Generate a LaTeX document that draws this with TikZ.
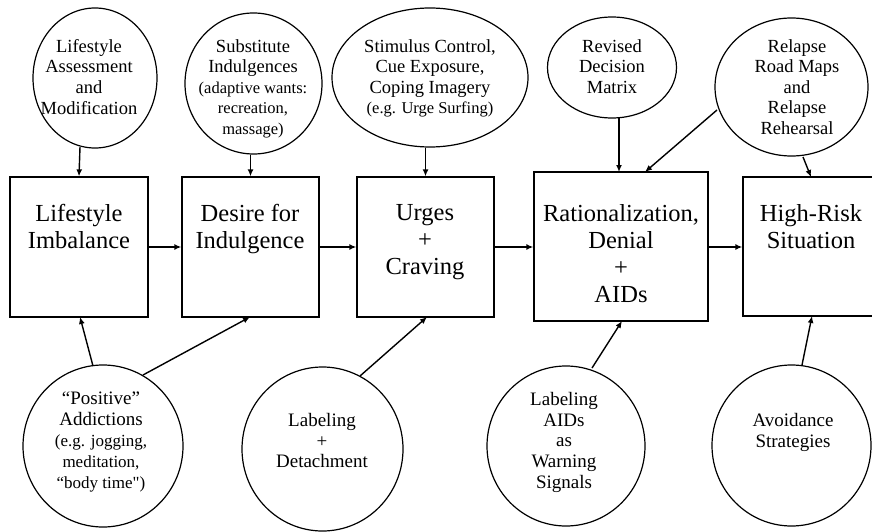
\documentclass[tikz,border=0pt]{standalone}
\usepackage{fontspec}
\setmainfont{Liberation Serif}
\newfontfamily\qf{Liberation Serif}
\usetikzlibrary{shapes.geometric,arrows.meta}
\newcommand\fbig{\fontsize{24.5}{27}\selectfont}
\newcommand\fmid{\fontsize{18.5}{20.6}\selectfont}
\newcommand\fsm{\fontsize{16.5}{20.6}\selectfont}
\newcommand\fbot{\fontsize{19}{20.8}\selectfont}
\newcommand\fbsm{\fontsize{17}{20.8}\selectfont}
\tikzset{
  stagebox/.style={draw, line width=1.3pt, rectangle, inner sep=0pt},
  ell/.style={draw, line width=1.2pt, ellipse, inner sep=0pt},
  txt/.style={inner sep=0pt, align=center, anchor=north},
  arr/.style={line width=1.4pt, -{Latex[length=7pt,width=6pt]}},
}
\begin{document}
\begin{tikzpicture}[x=1pt,y=-1pt]
\useasboundingbox (0,0) rectangle (872,532);
\clip (0,0) rectangle (872,532);
% boxes
\node[stagebox, minimum width=138pt, minimum height=140pt] (b1) at (79,247) {};
\node[stagebox, minimum width=137pt, minimum height=140pt] (b2) at (250.5,247) {};
\node[stagebox, minimum width=137pt, minimum height=140pt] (b3) at (425.5,247) {};
\node[stagebox, minimum width=174pt, minimum height=149pt] (b4) at (621,246.5) {};
\node[stagebox, minimum width=137pt, minimum height=139pt] (b5) at (811.5,246.5) {};
% box texts
\node[txt, font=\fbig] (t1) at (79,204) {Lifestyle\\Imbalance};
\node[txt, font=\fbig] (t2) at (250,204) {Desire for\\Indulgence};
\node[txt, font=\fbig] (t3) at (425,204) {Urges\\+\\Craving};
\node[txt, font=\fbig] (t4) at (621,204) {Rationalization,\\Denial\\+\\AIDs};
\node[txt, font=\fbig] (t5) at (811,204) {High-Risk\\Situation};
% top ellipses
\node[ell, minimum width=124pt, minimum height=140pt] (c1) at (95,78) {};
\node[ell, minimum width=137pt, minimum height=141pt] (c2) at (253.5,83.5) {};
\node[ell, minimum width=196pt, minimum height=139pt] (c3) at (430,77.5) {};
\node[ell, minimum width=129pt, minimum height=101pt] (c4) at (612,67.5) {};
\node[ell, minimum width=153pt, minimum height=138pt] (c5) at (791.5,87) {};
\node[txt, font=\fmid] (u1) at (89,39) {Lifestyle\\Assessment\\and\\Modification};
\node[txt, font=\fmid] (u2) at (253,39) {Substitute\\Indulgences\\{\fsm (adaptive wants:}\\{\fsm recreation,}\\{\fsm massage)}};
\node[txt, font=\fmid] (u3) at (430,39) {Stimulus Control,\\Cue Exposure,\\Coping Imagery\\{\fsm (e.g. Urge Surfing)}};
\node[txt, font=\fmid] (u4) at (612,39) {Revised\\Decision\\Matrix};
\node[txt, font=\fmid] (u5) at (797,39) {Relapse\\Road Maps\\and\\Relapse\\Rehearsal};
% bottom circles
\node[ell, minimum width=160pt, minimum height=162pt] (d1) at (103,446) {};
\node[ell, minimum width=161pt, minimum height=164pt] (d2) at (322.5,449) {};
\node[ell, minimum width=158pt, minimum height=160pt] (d3) at (566,446) {};
\node[ell, minimum width=159pt, minimum height=161pt] (d4) at (791.5,445.5) {};
\node[txt, font=\fbot] (v1) at (101,392) {“Positive”\\Addictions\\{\fbsm (e.g. jogging,}\\{\fbsm meditation,}\\{\fbsm “body time{\qf"})}};
\node[txt, font=\fbot] (v2) at (322,413) {Labeling\\+\\Detachment};
\node[txt, font=\fbot] (v3) at (564,392) {Labeling\\AIDs\\as\\Warning\\Signals};
\node[txt, font=\fbot] (v4) at (793,413) {Avoidance\\Strategies};
% horizontal arrows
\draw[arr] (b1.east) -- (b2.west);
\draw[arr] (b2.east) -- (b3.west);
\draw[arr] (b3.east) -- (b4.west |- b3.east);
\draw[arr] (b4.east |- b3.east) -- (b5.west |- b3.east);
% top arrows
\coordinate (c1b) at (80,147);
\draw[arr] (c1b) -- (b1.north);
\draw[arr] (c2.south -| b2.north) -- (b2.north);
\draw[arr] (c3.south -| b3.north) -- (b3.north);
\coordinate (c4b) at (619,118);
\coordinate (b4t) at (619,172);
\draw[arr] (c4b) -- (b4t);
\coordinate (c5a) at (717,110);
\coordinate (b4r) at (645,172);
\draw[arr] (c5a) -- (b4r);
\coordinate (c5b) at (803,157);
\coordinate (b5t) at (811,177);
\draw[arr] (c5b) -- (b5t);
% bottom arrows
\coordinate (d1a) at (93,366);
\coordinate (b1b) at (80,317);
\draw[arr] (d1a) -- (b1b);
\coordinate (d1b) at (143,375);
\coordinate (b2b) at (250,317);
\draw[arr] (d1b) -- (b2b);
\coordinate (d2a) at (360,376);
\coordinate (b3b) at (427,317);
\draw[arr] (d2a) -- (b3b);
\coordinate (d3a) at (592,368);
\coordinate (b4b) at (622,321);
\draw[arr] (d3a) -- (b4b);
\coordinate (d4a) at (802,365);
\coordinate (b5b) at (812,316);
\draw[arr] (d4a) -- (b5b);
\end{tikzpicture}
\end{document}
